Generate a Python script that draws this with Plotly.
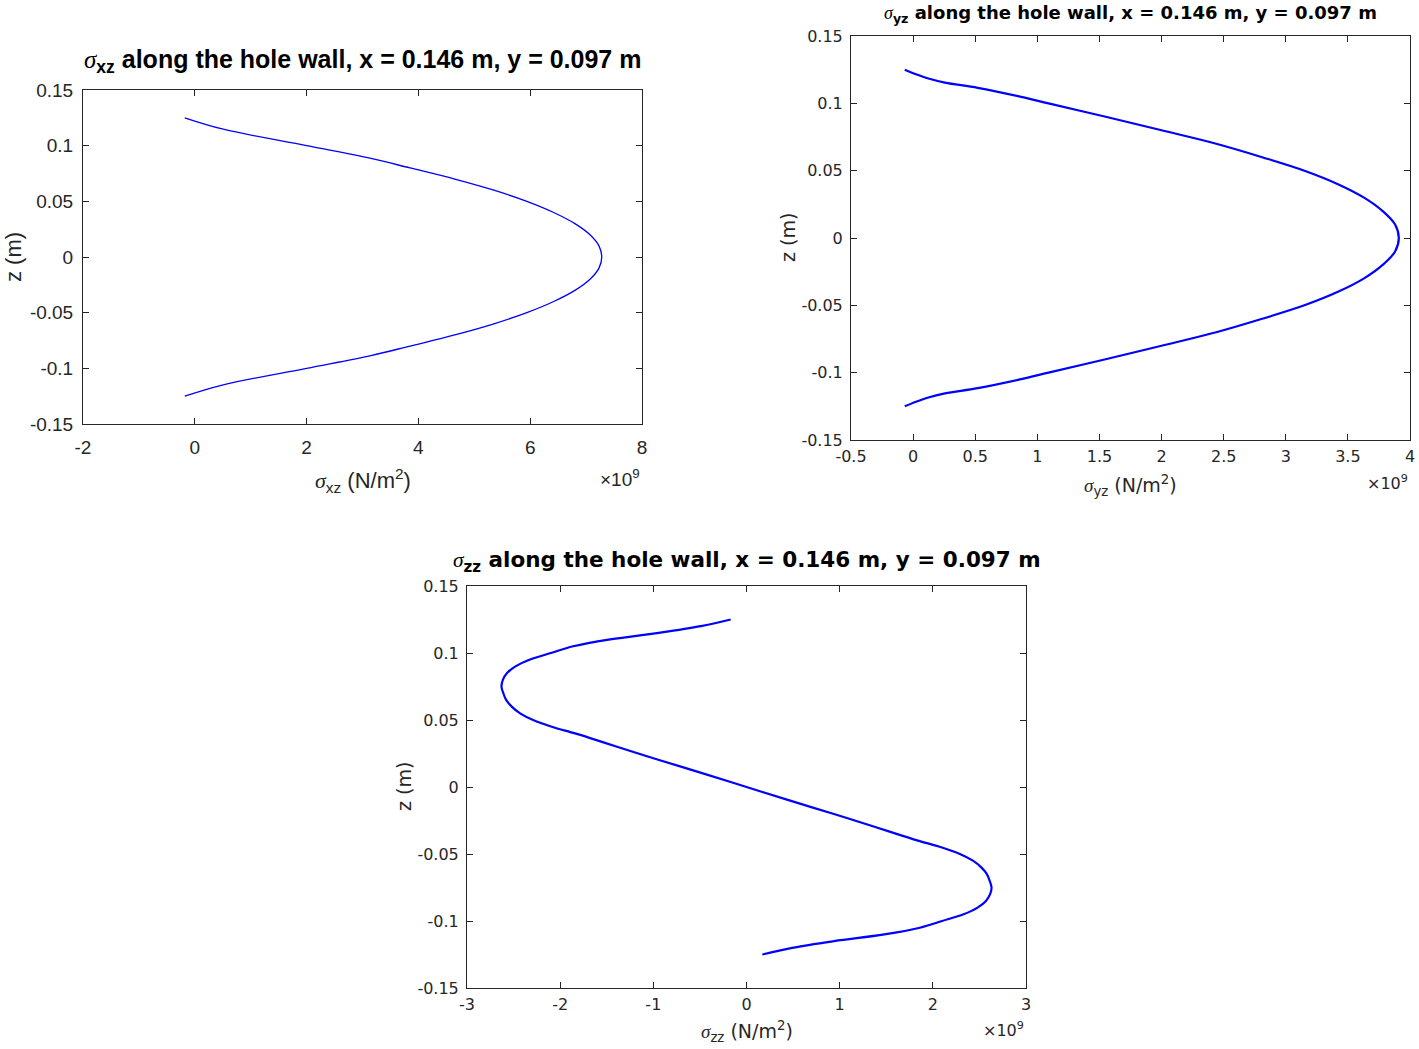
import plotly.graph_objects as go

W, H = 1419, 1049

# depth along the hole wall (m) and sigma_xz (x 1e9 N/m^2)
Z_XZ = [0.125, 0.115, 0.1, 0.0886, 0.08, 0.07, 0.06, 0.05, 0.04, 0.03, 0.02, 0.01, 0.0,
        -0.01, -0.02, -0.03, -0.04, -0.05, -0.06, -0.07, -0.08, -0.0886, -0.1, -0.115, -0.125]
S_XZ = [-0.18, 0.49, 2.0, 3.15, 3.85, 4.65, 5.35, 5.94, 6.42, 6.80, 7.07, 7.23, 7.28,
        7.23, 7.07, 6.80, 6.42, 5.94, 5.35, 4.65, 3.85, 3.15, 2.0, 0.49, -0.18]

Z_YZ = [0.125, 0.1216, 0.1184, 0.1154, 0.1115, 0.105, 0.1, 0.09, 0.08, 0.07, 0.06, 0.05, 0.04, 0.03, 0.02, 0.01, 0.0,
        -0.01, -0.02, -0.03, -0.04, -0.05, -0.06, -0.07, -0.08, -0.09, -0.1, -0.105, -0.1115, -0.1154, -0.1184, -0.1216, -0.125]
S_YZ = [-0.067, 0.023, 0.123, 0.256, 0.52, 0.86, 1.09, 1.55, 2.0, 2.44, 2.81, 3.15, 3.42, 3.63, 3.78, 3.88, 3.91,
        3.88, 3.78, 3.63, 3.42, 3.15, 2.81, 2.44, 2.0, 1.55, 1.09, 0.86, 0.52, 0.256, 0.123, 0.023, -0.067]

Z_ZZ = [0.125, 0.12, 0.115, 0.11, 0.105, 0.1, 0.095, 0.09, 0.085, 0.08, 0.075, 0.07, 0.065, 0.06, 0.055,
        0.05, 0.045, 0.04, 0.035, 0.03, 0.02, 0.01, 0.0,
        -0.01, -0.02, -0.03, -0.035, -0.04, -0.045, -0.05,
        -0.055, -0.06, -0.065, -0.07, -0.075, -0.08, -0.085, -0.09, -0.095, -0.1, -0.105, -0.11, -0.115, -0.12, -0.125]
S_ZZ = [-0.17, -0.49, -0.94, -1.48, -1.86, -2.10, -2.33, -2.48, -2.57, -2.615, -2.63, -2.61, -2.58, -2.52, -2.43,
        -2.29, -2.09, -1.84, -1.61, -1.39, -0.93, -0.46, 0.0,
        0.46, 0.93, 1.39, 1.61, 1.84, 2.09, 2.29,
        2.43, 2.52, 2.58, 2.61, 2.63, 2.615, 2.57, 2.48, 2.33, 2.10, 1.86, 1.48, 0.94, 0.49, 0.17]

Z_TICKS = [-0.15, -0.1, -0.05, 0, 0.05, 0.1, 0.15]
X_TICKS_XZ = [-2, 0, 2, 4, 6, 8]
X_TICKS_YZ = [-0.5, 0, 0.5, 1, 1.5, 2, 2.5, 3, 3.5, 4]
X_TICKS_ZZ = [-3, -2, -1, 0, 1, 2, 3]

SUBTITLE = " along the hole wall, x = 0.146 m, y = 0.097 m"
AX_COLOR = "#262626"

# panel boxes in page pixels: left, right, top, bottom ; text offsets in pixels
PANELS = [
    dict(box=(83, 642, 90, 424), s=S_XZ, z=Z_XZ, sub="xz", xt=X_TICKS_XZ, font="Liberation Sans",
         tick=19, title=25, label=22, lw=1.3, ty=61, stand=6, ystand=5, xl=57, x10=54, yl=70),
    dict(box=(851, 1410, 36, 440), s=S_YZ, z=Z_YZ, sub="yz", xt=X_TICKS_YZ, font="DejaVu Sans",
         tick=16, title=18, label=19, lw=2.2, ty=14, stand=2, ystand=4, xl=45, x10=42, yl=63),
    dict(box=(467, 1026, 586, 988), s=S_ZZ, z=Z_ZZ, sub="zz", xt=X_TICKS_ZZ, font="DejaVu Sans",
         tick=16, title=21.5, label=19, lw=2.2, ty=561, stand=2, ystand=4, xl=43, x10=41, yl=63),
]


def px(x):
    return x / W


def py(y):
    return 1 - y / H


fig = go.Figure()
annotations = []
for i, p in enumerate(PANELS):
    n = "" if i == 0 else str(i + 1)
    l, r, t, b = p["box"]
    fig.add_trace(go.Scatter(x=p["s"], y=p["z"], mode="lines",
                             line=dict(color="#0000ff", width=p["lw"], shape="spline", smoothing=1.0),
                             xaxis="x" + n, yaxis="y" + n, showlegend=False, hoverinfo="skip"))
    common = dict(showline=True, linecolor=AX_COLOR, linewidth=1, mirror="ticks", ticks="inside",
                  ticklen=6, tickcolor=AX_COLOR, showgrid=False, zeroline=False, automargin=False,
                  tickfont=dict(family=p["font"], size=p["tick"], color=AX_COLOR))
    fig.update_layout({
        "xaxis" + n: dict(common, domain=[px(l), px(r)], range=[p["xt"][0], p["xt"][-1]],
                          tickvals=p["xt"], ticktext=[f"{v:g}" for v in p["xt"]],
                          anchor="y" + n, ticklabelstandoff=p["stand"]),
        "yaxis" + n: dict(common, domain=[py(b), py(t)], range=[-0.15, 0.15],
                          tickvals=Z_TICKS, ticktext=[f"{v:g}" for v in Z_TICKS],
                          anchor="x" + n, ticklabelstandoff=p["ystand"]),
    })
    cx = (l + r) / 2
    cy = (t + b) / 2
    sig = "<span style='font-family:Liberation Serif'><i>σ</i></span>"
    annotations += [
        dict(x=px(cx), y=py(p["ty"]), xref="paper", yref="paper", showarrow=False,
             xanchor="center", yanchor="middle",
             text=f"{sig}<sub><b>{p['sub']}</b></sub><b>{SUBTITLE}</b>",
             font=dict(family=p["font"], size=p["title"], color="black")),
        dict(x=px(cx), y=py(b + p["xl"]), xref="paper", yref="paper", showarrow=False,
             xanchor="center", yanchor="middle",
             text=f"{sig}<sub>{p['sub']}</sub> (N/m<sup>2</sup>)",
             font=dict(family=p["font"], size=p["label"], color=AX_COLOR)),
        dict(x=px(l - p["yl"]), y=py(cy), xref="paper", yref="paper", showarrow=False,
             xanchor="center", yanchor="middle", textangle=-90, text="z (m)",
             font=dict(family=p["font"], size=p["label"], color=AX_COLOR)),
        dict(x=px(r), y=py(b + p["x10"]), xref="paper", yref="paper", showarrow=False,
             xanchor="right", yanchor="middle", text="×10<sup>9</sup>",
             font=dict(family=p["font"], size=p["tick"], color=AX_COLOR)),
    ]

fig.update_layout(template="none", width=W, height=H, margin=dict(l=0, r=0, t=0, b=0, pad=0),
                  paper_bgcolor="white", plot_bgcolor="white", annotations=annotations)

# drop the default page margin so the figure fills the window exactly
fig.write_html("out.html", config={"displayModeBar": False},
               post_script="document.body.style.margin='0';document.body.style.overflow='hidden';")
